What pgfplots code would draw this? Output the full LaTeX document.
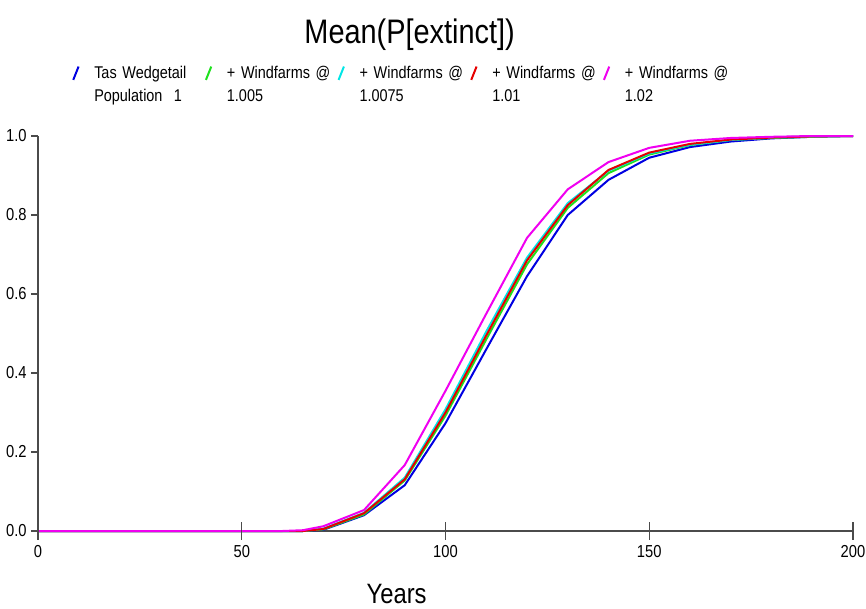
\documentclass[border=0pt]{standalone}
\usepackage{pgfplots}
\pgfplotsset{compat=1.18}
\usepackage{fontspec}
\setmainfont{Liberation Sans}[FakeStretch=0.85]
\definecolor{cBlue}{RGB}{0,0,225}
\definecolor{cGreen}{RGB}{30,225,30}
\definecolor{cCyan}{RGB}{0,230,230}
\definecolor{cRed}{RGB}{230,0,0}
\definecolor{cMag}{RGB}{240,0,240}
\definecolor{axgray}{RGB}{75,75,75}
\newcommand\legA{\vtop{\hbox{Tas Wedgetail}\hbox{Population\ \ 1}}}
\newcommand\legB{\vtop{\hbox{+ Windfarms @}\hbox{1.005}}}
\newcommand\legC{\vtop{\hbox{+ Windfarms @}\hbox{1.0075}}}
\newcommand\legD{\vtop{\hbox{+ Windfarms @}\hbox{1.01}}}
\newcommand\legE{\vtop{\hbox{+ Windfarms @}\hbox{1.02}}}
\pgfplotsset{commonframe/.style={
  at={(28.5pt,57.75pt)}, anchor=south west,
  scale only axis, width=611.25pt, height=296.25pt,
  xmin=0, xmax=200, ymin=0, ymax=1,
  xtick={0,50,100,150,200}, ytick={0,0.2,0.4,0.6,0.8,1.0},
  clip=false}}
\begin{document}
\begin{tikzpicture}
\useasboundingbox (0,0) rectangle (649.5pt,456pt);
\begin{axis}[
  commonframe,
  axis x line=bottom, axis y line=left,
  axis line style={-, draw=axgray, line width=1.1pt},
  tick align=outside,
  major tick length=5pt,
  xtick style={draw=none},
  ytick style={draw=axgray, line width=1pt},
  yticklabel style={/pgf/number format/fixed, /pgf/number format/precision=1, /pgf/number format/fixed zerofill},
  xticklabel style={yshift=-2pt},
  /pgf/number format/assume math mode=true,
  tick label style={font=\fontsize{13pt}{15pt}\selectfont},
  title={Mean(P[extinct])},
  title style={at={(axis description cs:0.456,1.213)}, anchor=base, font=\fontsize{25.5pt}{30pt}\selectfont, inner sep=0pt},
  xlabel={Years},
  xlabel style={at={(axis description cs:0.44,-0.183)}, anchor=base, font=\fontsize{21pt}{25pt}\selectfont, inner sep=0pt},
  legend columns=5,
  legend style={at={(axis description cs:0.0417,1.179)}, anchor=north west, draw=none, fill=none, inner sep=0pt,
    font=\fontsize{12.75pt}{17.25pt}\selectfont,
    nodes={inner sep=0pt, anchor=base west},
    /tikz/every odd column/.append style={column sep=11pt},
    /tikz/every even column/.append style={column sep=10pt, text width=73pt}},
  legend image code/.code={\draw[#1, line width=1.5pt] (0pt,-1pt) -- (4pt,9pt);},
  every axis plot/.append style={line width=1.5pt},
]
\addplot[cBlue] coordinates {(0,0) (65,0) (70,0.003) (80,0.040) (90,0.116) (100,0.273) (110,0.46) (120,0.645) (130,0.80) (140,0.889) (150,0.945) (160,0.972) (170,0.986) (180,0.994) (190,0.998) (200,1.0)};
\addlegendentry{\legA}
\addplot[cGreen] coordinates {(0,0) (65,0) (70,0.004) (80,0.042) (90,0.128) (100,0.292) (110,0.485) (120,0.675) (130,0.818) (140,0.906) (150,0.953) (160,0.977) (170,0.99) (180,0.995) (190,0.998) (200,1.0)};
\addlegendentry{\legB}
\addplot[cCyan] coordinates {(0,0) (65,0) (70,0.006) (80,0.046) (90,0.135) (100,0.308) (110,0.505) (120,0.692) (130,0.83) (140,0.912) (150,0.956) (160,0.978) (170,0.99) (180,0.996) (190,0.999) (200,1.0)};
\addlegendentry{\legC}
\addplot[cRed] coordinates {(0,0) (65,0) (70,0.005) (80,0.045) (90,0.131) (100,0.30) (110,0.495) (120,0.685) (130,0.825) (140,0.914) (150,0.958) (160,0.98) (170,0.991) (180,0.996) (190,0.999) (200,1.0)};
\addlegendentry{\legD}
\addplot[cMag] coordinates {(0,0) (60,0) (65,0.002) (70,0.012) (80,0.053) (90,0.167) (100,0.355) (110,0.55) (120,0.742) (130,0.865) (140,0.934) (150,0.97) (160,0.988) (170,0.995) (180,0.998) (190,1.0) (200,1.0)};
\addlegendentry{\legE}
\end{axis}
\begin{axis}[
  commonframe,
  axis x line=bottom, axis y line=none,
  axis line style={draw=none},
  xticklabels={},
  tick align=center,
  major tick length=13pt,
  xtick style={draw=axgray, line width=1pt},
]
\end{axis}
\end{tikzpicture}
\end{document}
